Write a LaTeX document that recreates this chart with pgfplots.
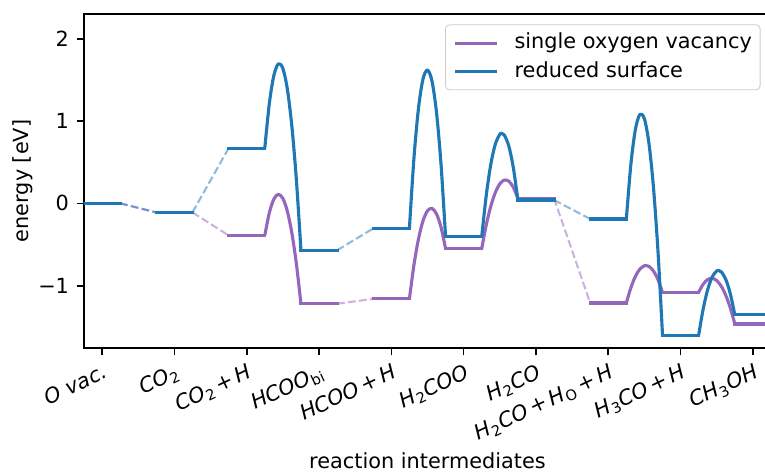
\documentclass[border=0pt]{standalone}
\usepackage{fontspec}
\setmainfont{DejaVu Sans}
\usepackage{pgfplots}
\pgfplotsset{compat=1.18}

\definecolor{vac}{HTML}{9467BD}
\definecolor{red}{HTML}{1F77B4}

% upright subscript and operator inside the italic tick labels
\newcommand{\sub}[1]{\textsubscript{\upshape #1}}
\newcommand{\plus}{\hspace{1.7pt}{\upshape +}\hspace{1.7pt}}

\pgfplotsset{
  lvl/.style={line width=1.5pt, line cap=rect, line join=round, forget plot, unbounded coords=jump},
  conn/.style={line width=1pt, dash pattern=on 3.7pt off 1.6pt, opacity=0.5, forget plot, unbounded coords=jump},
  bar/.style={line width=1.5pt, smooth, line join=round, forget plot},
}

\begin{document}
\begin{tikzpicture}
\useasboundingbox (-40.32pt,-59.52pt) rectangle (326.88pt,167.04pt);
\clip (-40.32pt,-59.52pt) rectangle (326.88pt,167.04pt);
\begin{axis}[
  at={(0,0)}, anchor=south west,
  scale only axis, width=329.76pt, height=160.32pt,
  xmin=-0.25, xmax=9.25, ymin=-1.757, ymax=2.3,
  xtick={0,1,2,3,4,5,6,7,8,9},
  xticklabels={
    {O vac.},
    {CO\sub{2}},
    {CO\sub{2}\plus H},
    {HCOO\sub{bi}},
    {HCOO\plus H},
    {H\sub{2}COO},
    {H\sub{2}CO},
    {H\sub{2}CO\plus H\sub{O}\plus H},
    {H\sub{3}CO\plus H},
    {CH\sub{3}OH}},
  ytick={-1,0,1,2},
  yticklabels={−1,0,1,2},
  tick align=outside, tick pos=left,
  major tick length=3.5pt,
  every tick/.style={black, line width=0.8pt},
  axis line style={line width=0.8pt},
  x tick label style={rotate=25, anchor=north east, inner sep=0pt, font=\itshape},
  xticklabel shift=3.5pt,
  y tick label style={inner sep=0pt},
  yticklabel shift=3.5pt,
  xlabel={reaction intermediates},
  xlabel style={at={(axis description cs:0.5,-0.338)}, anchor=center},
  ylabel={energy [eV]},
  ylabel style={at={(axis description cs:-0.0888,0.5)}, anchor=center, rotate=0},
  legend cell align=left,
  legend image code/.code={\draw[#1] (0pt,0pt) -- (20pt,0pt);},
  legend style={at={(rel axis cs:1,1)}, anchor=north east, xshift=-5pt, yshift=-5pt,
    draw=black!20, rounded corners=2pt, fill=white, fill opacity=0.8, text opacity=1,
    inner xsep=4pt, inner ysep=3.5pt, row sep=3pt,
    nodes={inner sep=0pt, text height=8pt, text depth=2.6pt},
    /tikz/every odd column/.append style={column sep=7.7pt}},
]
\addlegendimage{vac, line width=1.5pt}
\addlegendentry{single oxygen vacancy}
\addlegendimage{red, line width=1.5pt}
\addlegendentry{reduced surface}

% ---- single oxygen vacancy ----
\addplot[conn, vac] coordinates {
  (0.25,0) (0.75,-0.11) (1,nan)
  (1.25,-0.11) (1.75,-0.39) (2,nan)
  (3.25,-1.22) (3.75,-1.16) (4,nan)
  (6.25,0.06) (6.75,-1.21)};
\addplot[lvl, vac] coordinates {
  (-0.25,0) (0.25,0) (0.5,nan)
  (0.75,-0.11) (1.25,-0.11) (1.5,nan)
  (1.75,-0.39) (2.25,-0.39) (2.5,nan)
  (2.75,-1.22) (3.25,-1.22) (3.5,nan)
  (3.75,-1.16) (4.25,-1.16) (4.5,nan)
  (4.75,-0.55) (5.25,-0.55) (5.5,nan)
  (5.75,0.06) (6.25,0.06) (6.5,nan)
  (6.75,-1.21) (7.25,-1.21) (7.5,nan)
  (7.75,-1.08) (8.25,-1.08) (8.5,nan)
  (8.75,-1.465) (9.25,-1.465)};
\addplot[bar, vac] coordinates {
  (2.25,-0.39) (2.3125,-0.116) (2.375,0.0515) (2.4375,0.1097) (2.5,0.060)
  (2.5625,-0.098) (2.625,-0.364) (2.6875,-0.738) (2.75,-1.22)};
\addplot[bar, vac] coordinates {
  (4.25,-1.16) (4.3125,-0.749) (4.375,-0.434) (4.4375,-0.2145) (4.5,-0.0904)
  (4.5625,-0.0619) (4.625,-0.129) (4.6875,-0.2917) (4.75,-0.55)};
\addplot[bar, vac] coordinates {
  (5.25,-0.55) (5.3125,-0.263) (5.375,-0.0362) (5.4375,0.1303) (5.5,0.2367)
  (5.5625,0.2829) (5.625,0.2688) (5.6875,0.1946) (5.75,0.06)};
\addplot[bar, vac] coordinates {
  (7.25,-1.21) (7.3125,-1.0243) (7.375,-0.887) (7.4375,-0.7982) (7.5,-0.7577)
  (7.521,-0.755) (7.5625,-0.7657) (7.625,-0.822) (7.6875,-0.9268) (7.75,-1.08)};
\addplot[bar, vac] coordinates {
  (8.25,-1.08) (8.3125,-0.9816) (8.375,-0.9251) (8.4375,-0.9105) (8.5,-0.9377)
  (8.5625,-1.0067) (8.625,-1.1177) (8.6875,-1.2704) (8.75,-1.465)};

% ---- reduced surface ----
\addplot[conn, red] coordinates {
  (0.25,0) (0.75,-0.11) (1,nan)
  (1.25,-0.11) (1.75,0.67) (2,nan)
  (3.25,-0.57) (3.75,-0.305) (4,nan)
  (6.25,0.04) (6.75,-0.19)};
\addplot[lvl, red] coordinates {
  (-0.25,0) (0.25,0) (0.5,nan)
  (0.75,-0.11) (1.25,-0.11) (1.5,nan)
  (1.75,0.67) (2.25,0.67) (2.5,nan)
  (2.75,-0.57) (3.25,-0.57) (3.5,nan)
  (3.75,-0.305) (4.25,-0.305) (4.5,nan)
  (4.75,-0.406) (5.25,-0.406) (5.5,nan)
  (5.75,0.04) (6.25,0.04) (6.5,nan)
  (6.75,-0.19) (7.25,-0.19) (7.5,nan)
  (7.75,-1.60) (8.25,-1.60) (8.5,nan)
  (8.75,-1.355) (9.25,-1.355)};
\addplot[bar, red] coordinates {
  (2.25,0.67) (2.3125,1.210) (2.375,1.552) (2.4375,1.695) (2.5,1.639)
  (2.5625,1.385) (2.625,0.932) (2.6875,0.280) (2.75,-0.57)};
\addplot[bar, red] coordinates {
  (4.25,-0.305) (4.3125,0.547) (4.375,1.1515) (4.4375,1.509) (4.5,1.620)
  (4.5625,1.484) (4.625,1.101) (4.6875,0.471) (4.75,-0.406)};
\addplot[bar, red] coordinates {
  (5.25,-0.406) (5.3125,0.0963) (5.375,0.4711) (5.4375,0.7182) (5.5,0.8378)
  (5.527,0.850) (5.5625,0.8298) (5.625,0.6941) (5.6875,0.4309) (5.75,0.04)};
\addplot[bar, red] coordinates {
  (7.25,-0.19) (7.3125,0.4739) (7.375,0.8977) (7.4375,1.0816) (7.5,1.0253)
  (7.5625,0.729) (7.625,0.1927) (7.6875,-0.5837) (7.75,-1.60)};
\addplot[bar, red] coordinates {
  (8.25,-1.60) (8.3125,-1.2821) (8.375,-1.0462) (8.4375,-0.8924) (8.5,-0.8207)
  (8.523,-0.815) (8.5625,-0.8312) (8.625,-0.9236) (8.6875,-1.0983) (8.75,-1.355)};
\end{axis}
\end{tikzpicture}
\end{document}
